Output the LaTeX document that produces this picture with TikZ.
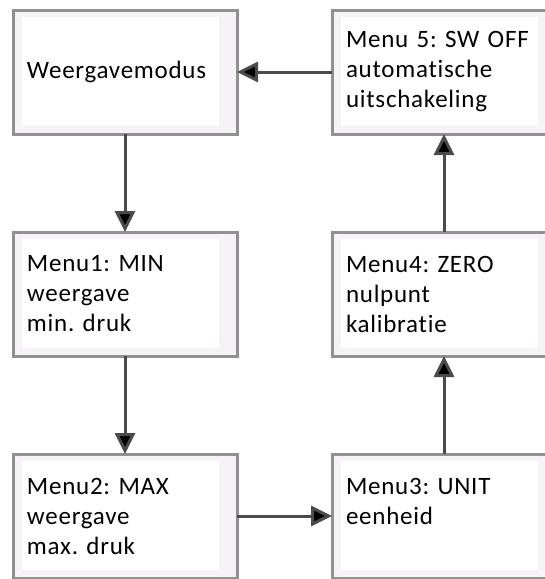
\documentclass[tikz,border=0pt]{standalone}
\usepackage{fontspec}
\setmainfont{Carlito}[Ligatures=NoCommon,LetterSpace=3]
\usepackage{tikz}
\usetikzlibrary{positioning,arrows.meta}
\definecolor{boxline}{RGB}{145,145,145}
\definecolor{boxfill}{RGB}{246,243,246}
\definecolor{arrowgray}{RGB}{75,75,75}
\frenchspacing
\tikzset{
	flow/.style={node distance=98pt and 95pt,
		>={Triangle[length=21pt,width=20pt]}},
	menubox/.style={rectangle,draw=boxline,line width=3pt,fill=boxfill,
		outer sep=0pt,inner xsep=14pt,inner ysep=0pt,
		minimum width=224pt,minimum height=124pt,text width=196pt,
		align=left,font=\fontsize{25pt}{30pt}\selectfont,
		path picture={\fill[white]
			([shift={(9pt,-7pt)}]path picture bounding box.north west) rectangle
			([shift={(-18pt,8pt)}]path picture bounding box.south east);}},
	step arrow/.style={->,line width=3pt,draw=arrowgray}
}

\begin{document}
\begin{tikzpicture}[flow,x=1pt,y=-1pt]
	\useasboundingbox (0,0) rectangle (545,579);
	\clip (0,0) rectangle (545,579);
	
	\node[menubox] (weer) at (125,72) {Weergavemodus};
	\node[menubox] (menu1) [below= of weer] {Menu1: MIN\\weergave\\min. druk};
	\node[menubox] (menu2) [below= of menu1] {Menu2: MAX\\weergave\\max. druk};
	\node[menubox,text depth=60pt] (menu3) [right= of menu2] {Menu3: UNIT\\eenheid};
	\node[menubox] (menu4) [above= of menu3] {Menu4: ZERO\\nulpunt\\kalibratie};
	\node[menubox] (menu5) [above= of menu4] {Menu 5: SW OFF\\automatische\\uitschakeling};
	
	\path[step arrow] (weer) edge (menu1);
	\path[step arrow] (menu1) edge (menu2);
	\path[step arrow] (menu2) edge (menu3);
	\path[step arrow] (menu3) edge (menu4);
	\path[step arrow] (menu4) edge (menu5);
	\path[step arrow] (menu5) edge (weer);
\end{tikzpicture}
\end{document}
